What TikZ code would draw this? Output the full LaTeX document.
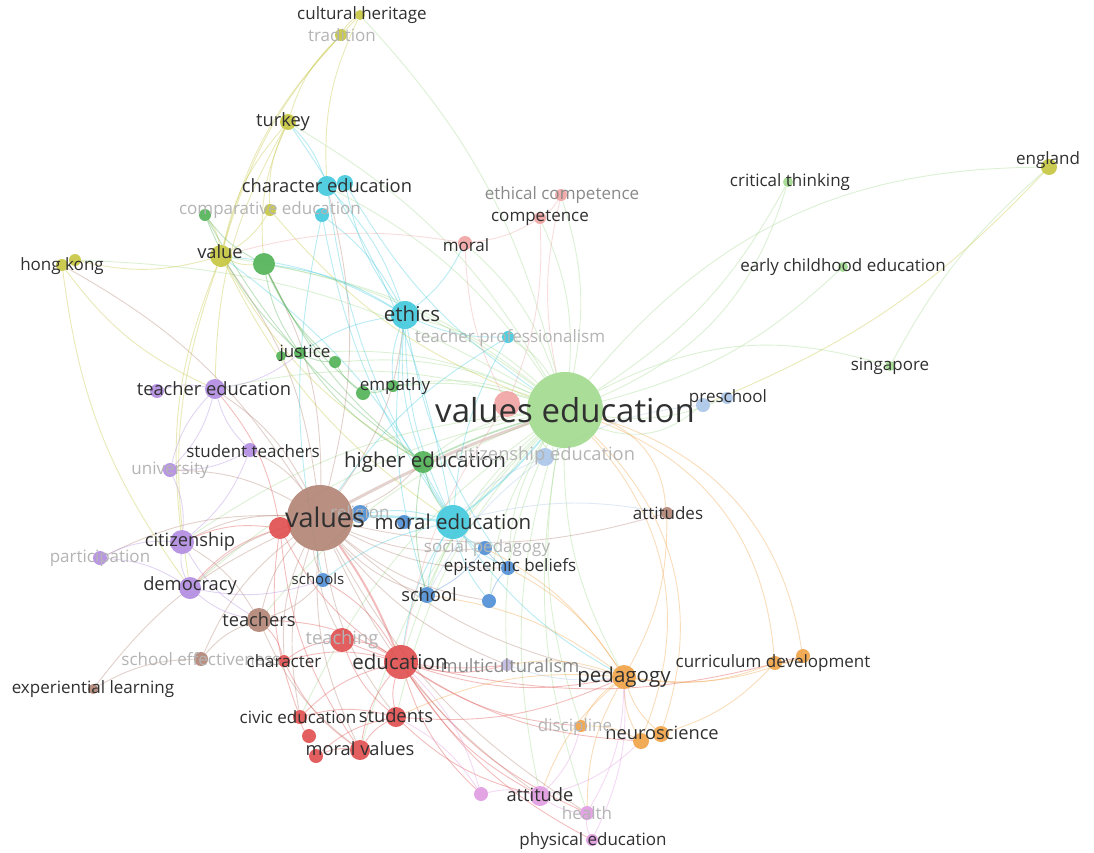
\documentclass[tikz,border=0pt]{standalone}
\usepackage{fontspec}
\setmainfont{Open Sans}
\usetikzlibrary{backgrounds}
\definecolor{cVE}{HTML}{9ED98A}
\definecolor{cGr}{HTML}{4CB050}
\definecolor{cYe}{HTML}{C4C43A}
\definecolor{cCy}{HTML}{3CC8DC}
\definecolor{cBl}{HTML}{4A8CD4}
\definecolor{cLb}{HTML}{A8C4E8}
\definecolor{cLa}{HTML}{C0B8E0}
\definecolor{cSa}{HTML}{F0A0A0}
\definecolor{cBr}{HTML}{B08070}
\definecolor{cRe}{HTML}{E04848}
\definecolor{cPu}{HTML}{B088E0}
\definecolor{cOr}{HTML}{F0A040}
\definecolor{cPk}{HTML}{E098E0}
\definecolor{cTx}{HTML}{303030}
\definecolor{cFd}{HTML}{B4B4B4}
\definecolor{cMd}{HTML}{8A8A8A}
\tikzset{
  dot/.style={circle, inner sep=0pt, fill=#1, fill opacity=0.88, draw=none},
  lbl/.style={inner sep=0pt, text=cTx, anchor=center},
  lS/.style={lbl, font=\fontsize{17}{17}\selectfont},
  lM/.style={lbl, font=\fontsize{18.3}{18.3}\selectfont},
  lL/.style={lbl, font=\fontsize{20.5}{20.5}\selectfont},
  lX/.style={lbl, font=\fontsize{33}{33}\selectfont},
  fd/.style={text=cFd},
  md/.style={text=cMd},
  edge/.style={draw=#1, line width=0.9pt, draw opacity=0.36},
}
\newcommand\kw[5]{\node[dot=#5, minimum size=#4pt] (#1) at (#2,#3) {};}
\begin{document}
\begin{tikzpicture}[x=1pt,y=-1pt]
\useasboundingbox (0,0) rectangle (1094,852);
% ---------- nodes (circles)
\kw{ve}{565}{410}{76}{cVE}
\kw{ct}{788}{182}{10}{cVE}
\kw{ece}{843}{267}{10}{cVE}
\kw{sg}{890}{366}{10}{cVE}
\kw{he}{423}{462}{22}{cGr}
\kw{ju}{300}{353}{12}{cGr}
\kw{gb}{335}{362}{12}{cGr}
\kw{gc}{281}{356}{10}{cGr}
\kw{ema}{363}{393}{14}{cGr}
\kw{emb}{393}{386}{12}{cGr}
\kw{ga}{264}{264}{22}{cGr}
\kw{gd}{205}{215}{12}{cGr}
\kw{ch}{360}{15}{10}{cYe}
\kw{tr}{341}{35}{12}{cYe}
\kw{tk}{288}{122}{16}{cYe}
\kw{va}{221}{256}{22}{cYe}
\kw{hka}{62}{265}{12}{cYe}
\kw{hkb}{75}{260}{12}{cYe}
\kw{co}{270}{210}{12}{cYe}
\kw{en}{1049}{167}{16}{cYe}
\kw{et}{405}{315}{28}{cCy}
\kw{cea}{327}{186}{20}{cCy}
\kw{ceb}{345}{183}{16}{cCy}
\kw{cyb}{322}{215}{14}{cCy}
\kw{tp}{508}{337}{12}{cCy}
\kw{me}{453}{522}{34}{cCy}
\kw{re}{360}{514}{18}{cBl}
\kw{blb}{404}{522}{14}{cBl}
\kw{sc}{323}{580}{14}{cBl}
\kw{sh}{427}{595}{16}{cBl}
\kw{sp}{485}{548}{14}{cBl}
\kw{eb}{508}{568}{14}{cBl}
\kw{blc}{489}{601}{14}{cBl}
\kw{cie}{545}{457}{18}{cLb}
\kw{psa}{727}{398}{12}{cLb}
\kw{psb}{703}{405}{14}{cLb}
\kw{mu}{507}{665}{12}{cLa}
\kw{mo}{465}{243}{14}{cSa}
\kw{cm}{540}{218}{12}{cSa}
\kw{ec}{561}{195}{12}{cSa}
\kw{sa}{507}{404}{26}{cSa}
\kw{vs}{320}{518}{66}{cBr}
\kw{te}{259}{620}{24}{cBr}
\kw{se}{201}{659}{14}{cBr}
\kw{el}{93}{689}{10}{cBr}
\kw{at}{667}{513}{12}{cBr}
\kw{rda}{280}{528}{22}{cRe}
\kw{tc}{342}{640}{24}{cRe}
\kw{ed}{401}{662}{34}{cRe}
\kw{cr}{284}{661}{12}{cRe}
\kw{cv}{300}{717}{14}{cRe}
\kw{st}{396}{717}{20}{cRe}
\kw{rdb}{309}{736}{14}{cRe}
\kw{rdc}{316}{756}{14}{cRe}
\kw{mv}{360}{750}{20}{cRe}
\kw{tea}{215}{389}{20}{cPu}
\kw{teb}{157}{391}{14}{cPu}
\kw{stt}{250}{450}{14}{cPu}
\kw{un}{170}{470}{14}{cPu}
\kw{ci}{182}{542}{24}{cPu}
\kw{pa}{100}{558}{14}{cPu}
\kw{de}{190}{588}{22}{cPu}
\kw{pe}{624}{677}{24}{cOr}
\kw{cda}{775}{663}{14}{cOr}
\kw{cdb}{803}{656}{14}{cOr}
\kw{nea}{641}{741}{16}{cOr}
\kw{neb}{661}{734}{16}{cOr}
\kw{di}{581}{726}{12}{cOr}
\kw{att}{540}{796}{20}{cPk}
\kw{pka}{481}{794}{14}{cPk}
\kw{hl}{587}{813}{14}{cPk}
\kw{phe}{592}{840}{12}{cPk}
% ---------- edges
\begin{scope}[on background layer]
\fill[white] (0,0) rectangle (1094,852);
\foreach \a/\b in {ct/ve,ece/ve,psa/ve,cie/ve,he/ve,et/ve,tp/ve,mo/ve,cm/ve,ec/ve,ch/ve,tk/ve,va/ve,ga/ve,cea/ve,ed/ve,st/ve,pe/ve,att/ve,mu/ve,sh/ve,eb/ve,de/ve,ci/ve,tea/ve,ju/ve,ema/ve,te/ve,mv/ve,cv/ve,di/ve,hl/ve,hkb/ve,gb/ve,emb/ve,blc/ve}
  \draw[edge=cVE] (\a) to[bend left=14] (\b);
\draw[edge=cVE] (en) to[bend right=25] (ve);
\foreach \a/\b in {cda/ve,cdb/ve,nea/ve,neb/ve,at/ve}
  \draw[edge=cOr] (\a) to[bend right=32] (\b);
\draw[edge=cVE] (ve) to[bend left=22] (sg);
\draw[edge=cVE] (ve) to[bend right=25] (ct);
\draw[edge=cVE] (sg) to[bend left=10] (en);
\draw[edge=cVE] (psb) to[bend left=30] (ve);
\draw[edge=cBr, line width=3pt, draw opacity=0.35] (vs) to[bend left=4] (ve);
\draw[edge=cCy, line width=2.5pt] (vs) to[bend left=4] (me);
\draw[edge=cRe, line width=2pt] (vs) to[bend left=6] (ed);
\draw[edge=cCy, line width=1.8pt] (me) to[bend right=6] (ve);
\draw[edge=cGr, line width=1.6pt] (he) to[bend left=4] (ve);
\foreach \a/\b in {vs/et,vs/te,vs/sc,vs/sh,vs/ci,vs/de,vs/tea,vs/stt,vs/un,vs/va,vs/cea,vs/he,vs/re,vs/st,vs/mv,vs/cr,vs/cv,vs/pe,vs/at,vs/eb,vs/mu,vs/rda,vs/tc,vs/hka,vs/pa,vs/se,vs/el,vs/ga,vs/sp,vs/blc,vs/att,vs/hl}
  \draw[edge=cBr] (\a) to[bend right=14] (\b);
\foreach \a/\b in {et/cea,et/cyb,et/tp,et/me,et/he,et/emb,et/ju,et/va,et/ga,et/mo,et/sh,et/eb,cyb/me,cea/me,ceb/ve,ceb/et,me/sh,me/sp,me/eb,me/blc,me/re,me/ed,me/pe,me/va,me/tk,me/sc,tp/vs,tp/me,cea/tk,cyb/sc}
  \draw[edge=cCy] (\a) to[bend right=12] (\b);
\foreach \a/\b in {ed/st,ed/tc,ed/cr,ed/cv,ed/mv,ed/mu,ed/pe,ed/att,ed/hl,ed/phe,ed/pka,ed/te,ed/di,ed/nea,ed/cdb,st/mv,st/cv,st/rdc,cv/rdb,mv/rdc,cr/te,tc/cr,tc/st,rda/ed,rda/ci,rda/de,rda/tea,rda/mv,tc/mu,st/pe,st/att,cr/mv,rda/cv,ed/sc}
  \draw[edge=cRe] (\a) to[bend right=14] (\b);
\foreach \a/\b in {pe/nea,pe/neb,pe/cda,pe/cdb,pe/di,pe/at,pe/eb,pe/sp,pe/hl,pe/att,pe/st,pe/mu,cda/cdb,nea/di,neb/cda,pe/sh}
  \draw[edge=cOr] (\a) to[bend right=14] (\b);
\foreach \a/\b in {ch/tr,tr/tk,ch/va,tr/va,tk/va,tk/co,tk/ga,hkb/va,hka/de,hka/tea,va/ga,va/co,va/ci,va/de,va/gd,va/he,co/ve,va/me,tk/tea,ch/cea}
  \draw[edge=cYe] (\a) to[bend right=14] (\b);
\draw[edge=cYe] (en) to[bend left=12] (psb);
\foreach \a/\b in {tea/stt,tea/teb,tea/un,ci/de,ci/pa,de/pa,ci/un,un/stt,de/te,ci/stt,tea/ju,de/sc,ci/te,un/tea}
  \draw[edge=cPu] (\a) to[bend right=14] (\b);
\foreach \a/\b in {te/se,se/el,te/ci,te/sc,te/mv}
  \draw[edge=cBr] (\a) to[bend right=14] (\b);
\foreach \a/\b in {ga/ju,ga/gb,ga/he,gd/ga,gd/ju,ju/gb,gb/ema,ema/emb,ju/he,ga/ema,he/me,he/sh,gd/he}
  \draw[edge=cGr] (\a) to[bend right=12] (\b);
\foreach \a/\b in {mo/cm,cm/ec,mo/sa,sa/cm,mo/va,ec/ve,sa/ed}
  \draw[edge=cSa] (\a) to[bend right=12] (\b);
\foreach \a/\b in {att/pka,att/hl,hl/phe,pka/ed,att/nea,phe/pe,pka/st,att/di,hl/pe}
  \draw[edge=cPk] (\a) to[bend right=14] (\b);
\foreach \a/\b in {cie/me,cie/sh,psb/cie,mu/pe,at/me}
  \draw[edge=cLb] (\a) to[bend right=12] (\b);
\draw[edge=cBl] (sp) to[bend right=12] (eb);
\draw[edge=cBl] (eb) to[bend right=12] (blc);
\draw[edge=cBl] (sh) to[bend right=12] (sp);
\end{scope}
% ---------- labels
\node[lX] (l-ve) at (565,410) {values education};
\node[lS] (l-ct) at (790,182) {critical thinking};
\node[lS] (l-ece) at (843,267) {early childhood education};
\node[lS] (l-sg) at (890,366) {singapore};
\node[lL] (l-he) at (425,462) {higher education};
\node[lS] (l-ju) at (305,353) {justice};
\node[lS] (l-em) at (395,386) {empathy};
\node[lS] (l-ch) at (362,15) {cultural heritage};
\node[lS,fd] (l-tr) at (342,35) {tradition};
\node[lM] (l-tk) at (283,122) {turkey};
\node[lM] (l-va) at (220,252) {value};
\node[lS] (l-hk) at (62,266) {hong kong};
\node[lS,fd] (l-co) at (270,210) {comparative education};
\node[lS] (l-en) at (1048,160) {england};
\node[lL] (l-et) at (412,314) {ethics};
\node[lM] (l-ce) at (327,186) {character education};
\node[lS,fd] (l-tp) at (510,338) {teacher professionalism};
\node[lL] (l-me) at (453,522) {moral education};
\node[lS,fd] (l-re) at (360,514) {religion};
\node[lS,font=\fontsize{15}{15}\selectfont] (l-sc) at (318,579) {schools};
\node[lM] (l-sh) at (429,595) {school};
\node[lS,fd] (l-sp) at (487,548) {social pedagogy};
\node[lS] (l-eb) at (510,567) {epistemic beliefs};
\node[lM,fd] (l-cie) at (545,456) {citizenship education};
\node[lS] (l-ps) at (728,398) {preschool};
\node[lM,md] (l-mu) at (510,666) {multiculturalism};
\node[lS] (l-mo) at (466,245) {moral};
\node[lS] (l-cm) at (540,218) {competence};
\node[lS,md] (l-ec) at (562,195) {ethical competence};
\node[lX,font=\fontsize{27}{27}\selectfont] (l-vs) at (325,517) {values};
\node[lM] (l-te) at (259,620) {teachers};
\node[lS,fd] (l-se) at (201,659) {school effectiveness};
\node[lS] (l-el) at (93,689) {experiential learning};
\node[lS] (l-at) at (668,513) {attitudes};
\node[lM,fd] (l-tc) at (342,640) {teaching};
\node[lL] (l-ed) at (400,662) {education};
\node[lS] (l-cr) at (284,661) {character};
\node[lS] (l-cv) at (298,717) {civic education};
\node[lM] (l-st) at (396,716) {students};
\node[lM] (l-mv) at (360,749) {moral values};
\node[lM] (l-tea) at (214,389) {teacher education};
\node[lS] (l-stt) at (253,451) {student teachers};
\node[lS,fd] (l-un) at (170,470) {university};
\node[lM] (l-ci) at (190,542) {citizenship};
\node[lS,fd] (l-pa) at (100,558) {participation};
\node[lM] (l-de) at (190,586) {democracy};
\node[lL] (l-pe) at (624,677) {pedagogy};
\node[lS] (l-cd) at (773,663) {curriculum development};
\node[lM] (l-ne) at (662,733) {neuroscience};
\node[lS,fd] (l-di) at (575,727) {discipline};
\node[lM] (l-att) at (540,795) {attitude};
\node[lS,fd] (l-hl) at (587,813) {health};
\node[lS] (l-phe) at (593,841) {physical education};
\end{tikzpicture}
\end{document}
